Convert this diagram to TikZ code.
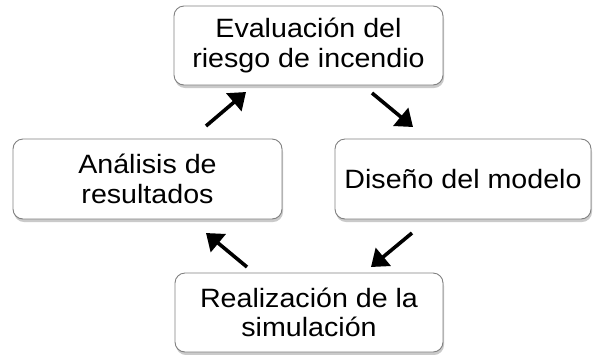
\documentclass[tikz,border=0pt]{standalone}
\usepackage{fontspec}
\setmainfont[FakeStretch=1.08]{Liberation Sans}
\usetikzlibrary{arrows.meta,shadows}
\begin{document}
\begin{tikzpicture}[x=1pt,y=-1pt,
  stepbox/.style={draw=black!50,line width=0.9pt,rounded corners=10pt,fill=white,
    drop shadow={shadow xshift=1pt,shadow yshift=-3pt,opacity=0.35,fill=black!60},
    align=center,font=\fontsize{26.5}{29.5}\selectfont,inner sep=0pt},
  cyc/.style={line width=3.6pt,-{Triangle[length=16pt,width=23pt]}}]
\useasboundingbox (0,0) rectangle (593,354);
\node[stepbox,minimum width=269pt,minimum height=79pt] (eval) at (308.5,45.5) {Evaluación del\\riesgo de incendio};
\node[stepbox,minimum width=256pt,minimum height=80pt] (dis) at (463,179) {Diseño del modelo};
\node[stepbox,minimum width=268pt,minimum height=79pt] (real) at (309,312.5) {Realización de la\\simulación};
\node[stepbox,minimum width=269pt,minimum height=80pt] (ana) at (147.5,179) {Análisis de\\resultados};
\coordinate (a1s) at (372,93);  \coordinate (a1e) at (413,127);
\coordinate (a2s) at (412,233); \coordinate (a2e) at (371,267);
\coordinate (a3s) at (247,267); \coordinate (a3e) at (206,233);
\coordinate (a4s) at (206,126); \coordinate (a4e) at (246,92);
\draw[cyc] (a1s) -- (a1e);
\draw[cyc] (a2s) -- (a2e);
\draw[cyc] (a3s) -- (a3e);
\draw[cyc] (a4s) -- (a4e);
\end{tikzpicture}
\end{document}
